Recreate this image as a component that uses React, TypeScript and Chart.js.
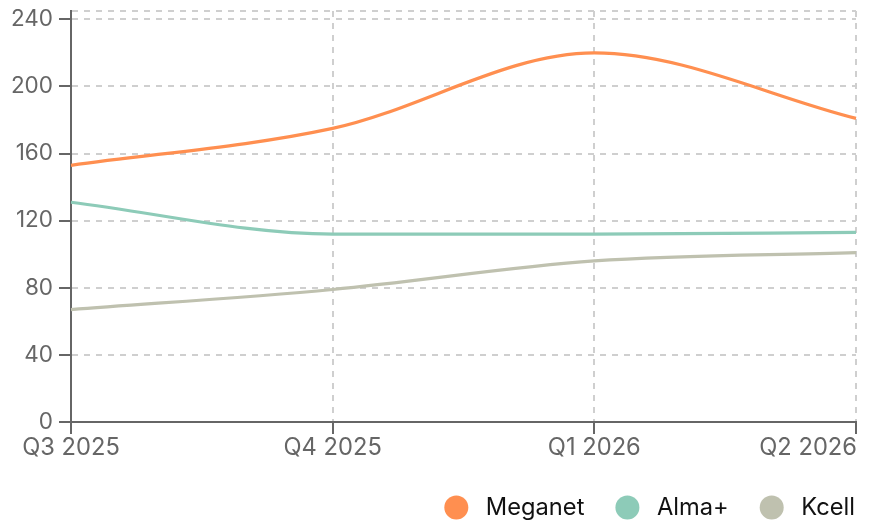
import React, { useEffect, useRef } from "react";
import { Chart, registerables } from "chart.js";

Chart.register(...registerables);

const quarters = ["Q3 2025", "Q4 2025", "Q1 2026", "Q2 2026"];
const meganet = [153, 175, 220, 181];
const almaPlus = [131, 112, 112, 113];
const kcell = [67, 79, 96, 101];
const yTicks = [0, 40, 80, 120, 160, 200, 240, 245];
const seriesNames = ["Meganet", "Alma+", "Kcell"];
const seriesColors = ["#ff8f50", "#8dcbb8", "#bfc1af"];

const FONT = "Inter, 'Noto Sans', sans-serif";
const AXIS_COLOR = "#666666";
const GRID_COLOR = "#cfcfcf";

const xLabelPlugin = {
  id: "xLabels",
  afterDraw(chart: any) {
    const ctx = chart.ctx;
    const xs = chart.scales.x;
    ctx.save();
    ctx.font = `400 23.7px ${FONT}`;
    ctx.fillStyle = AXIS_COLOR;
    ctx.textBaseline = "alphabetic";
    const n = quarters.length;
    for (let i = 0; i < n; i++) {
      const px = xs.getPixelForTick(i);
      ctx.textAlign = i === n - 1 ? "right" : "center";
      ctx.fillText(quarters[i], i === n - 1 ? px + 1 : px, chart.chartArea.bottom + 33);
    }
    ctx.restore();
  },
};

const legendPlugin = {
  id: "customLegend",
  afterDraw(chart: any) {
    const ctx = chart.ctx;
    ctx.save();
    ctx.font = `400 23.7px ${FONT}`;
    ctx.textBaseline = "alphabetic";
    ctx.textAlign = "left";
    const r = 12;
    const cy = chart.height - 14.5;
    let x = chart.chartArea.right - 1;
    const ds = chart.data.datasets;
    for (let i = ds.length - 1; i >= 0; i--) {
      const text = ds[i].label;
      const w = ctx.measureText(text).width;
      const tx = x - w;
      ctx.fillStyle = "#111111";
      ctx.fillText(text, tx, cy + 7.5);
      const cx = tx - 17.5 - r;
      ctx.beginPath();
      ctx.arc(cx, cy, r, 0, Math.PI * 2);
      ctx.fillStyle = ds[i].borderColor;
      ctx.fill();
      x = cx - r - 31;
    }
    ctx.restore();
  },
};

export default function App() {
  const ref = useRef<HTMLCanvasElement | null>(null);
  useEffect(() => {
    if (!ref.current) return;
    const values = [meganet, almaPlus, kcell];
    const chart = new Chart(ref.current, {
      type: "line",
      data: {
        labels: quarters,
        datasets: seriesNames.map((name, i) => ({
          label: name,
          data: values[i],
          borderColor: seriesColors[i],
          backgroundColor: seriesColors[i],
          borderWidth: 3.2,
          pointRadius: 0,
          pointHoverRadius: 0,
          cubicInterpolationMode: "monotone" as const,
          fill: false,
        })),
      },
      options: {
        animation: false,
        responsive: true,
        maintainAspectRatio: false,
        layout: { padding: { top: 11, right: 17, bottom: 0, left: 0 } },
        plugins: {
          legend: { display: false },
          tooltip: { enabled: false },
        },
        scales: {
          x: {
            type: "category",
            offset: false,
            ticks: { display: false },
            grid: {
              color: GRID_COLOR,
              lineWidth: 2,
              drawTicks: true,
              tickLength: 12,
              tickColor: AXIS_COLOR,
              tickWidth: 2,
            },
            border: { display: true, color: AXIS_COLOR, width: 2, dash: [6, 6] },
            afterFit(scale: any) {
              scale.height = 100;
              scale.paddingLeft = 0;
              scale.paddingRight = 0;
            },
          },
          y: {
            type: "linear",
            min: 0,
            max: 245,
            afterBuildTicks(scale: any) {
              scale.ticks = yTicks.map((v) => ({ value: v }));
            },
            ticks: {
              autoSkip: false,
              padding: 6,
              color: AXIS_COLOR,
              font: { family: FONT, size: 22.5 },
              callback: (v: any) => (Number(v) % 40 === 0 ? String(v) : ""),
            },
            grid: {
              color: GRID_COLOR,
              lineWidth: 2,
              drawTicks: true,
              tickLength: 12,
              tickWidth: 2,
              tickColor: (c: any) =>
                c.tick && c.tick.value % 40 === 0 ? AXIS_COLOR : "rgba(0,0,0,0)",
            },
            border: { display: true, color: AXIS_COLOR, width: 2, dash: [6, 6] },
            afterFit(scale: any) {
              scale.width = 71;
              scale.paddingTop = 0;
              scale.paddingBottom = 0;
            },
          },
        },
      },
      plugins: [xLabelPlugin, legendPlugin],
    });
    return () => chart.destroy();
  }, []);
  return (
    <div style={{ position: "fixed", left: 0, top: 0, width: 873, height: 522, background: "#fff" }}>
      <canvas ref={ref} />
    </div>
  );
}
